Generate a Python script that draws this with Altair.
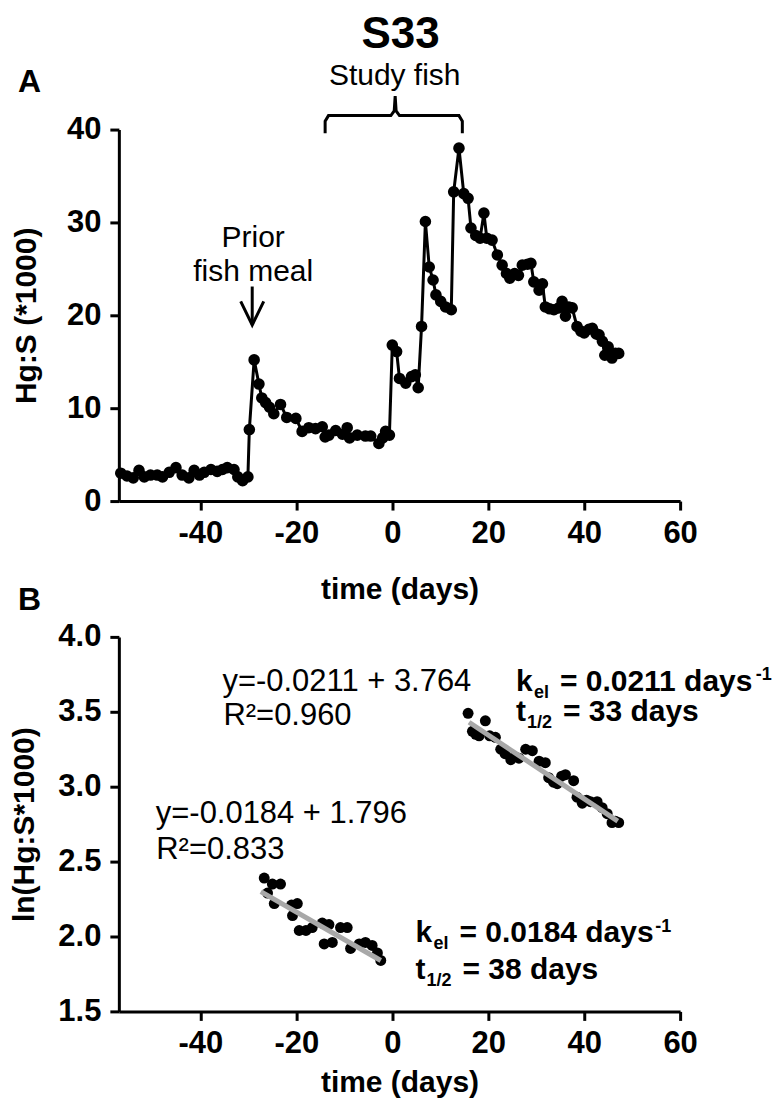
import altair as alt
import pandas as pd

FONT = "Liberation Sans"

# ---------------- Panel A data: Hg:S (*1000) vs time ----------------
days_a = [-56.6, -55.3, -54.0, -52.8, -51.7, -50.4, -49.0, -47.9, -46.5, -45.1,
          -43.8, -42.4, -41.3, -40.2, -39.2, -37.8, -36.5, -35.4, -34.4, -33.0,
          -32.2, -31.2, -30.1, -29.8, -28.8, -27.8, -27.2, -26.4, -25.6, -24.7,
          -23.3, -22.0, -20.1, -18.8, -17.4, -16.0, -14.6, -14.0, -13.2, -11.8,
          -10.4, -9.4, -8.9, -7.3, -5.6, -4.5, -2.8, -2.0, -1.4, -0.6,
          0.0, 0.9, 1.5, 2.8, 4.0, 4.8, 5.4, 6.1, 6.9, 7.7,
          8.5, 9.1, 10.1, 11.1, 12.3, 12.8, 13.9, 14.9, 15.8, 16.4,
          17.4, 18.3, 19.1, 19.7, 20.8, 21.9, 22.9, 23.8, 24.5, 25.5,
          26.3, 27.1, 28.2, 28.9, 29.5, 30.6, 31.3, 31.9, 32.8, 33.7,
          34.7, 35.4, 36.1, 36.8, 37.5, 38.5, 39.3, 40.0, 41.0, 41.7,
          42.5, 43.1, 43.8, 44.3, 45.0, 45.8, 46.5, 47.2]
hgs_a = [3.0, 2.7, 2.5, 3.3, 2.6, 2.8, 2.8, 2.6, 3.1, 3.6,
         2.8, 2.5, 3.3, 2.8, 3.1, 3.4, 3.2, 3.4, 3.6, 3.4,
         2.6, 2.2, 2.6, 7.7, 15.2, 12.6, 11.1, 10.6, 10.1, 9.4,
         10.4, 9.0, 8.9, 7.5, 7.9, 7.8, 8.0, 6.9, 7.1, 7.6,
         7.2, 7.9, 6.8, 7.1, 7.0, 7.0, 6.2, 6.8, 7.5, 7.1,
         16.8, 16.1, 13.2, 12.7, 13.4, 13.6, 12.2, 18.8, 30.1, 25.2,
         23.8, 22.2, 21.5, 20.9, 20.6, 33.3, 38.0, 33.1, 32.6, 29.4,
         28.6, 28.3, 31.0, 28.3, 28.1, 26.5, 25.4, 24.5, 24.0, 24.5,
         24.3, 25.4, 25.5, 25.6, 23.6, 22.7, 23.4, 20.9, 20.7, 20.6,
         20.8, 21.5, 19.9, 20.9, 20.8, 18.8, 18.3, 18.1, 18.5, 18.6,
         18.0, 17.9, 17.2, 15.7, 16.6, 15.4, 15.9, 15.9]

# ---------------- Panel B data: ln(Hg:S*1000) ----------------
days_b_pre = [-26.7, -26.0, -25.0, -24.6, -23.3, -21.0, -20.8, -19.8, -19.4, -18.0,
              -16.7, -14.6, -14.2, -13.2, -12.5, -10.8, -9.4, -8.7, -6.9, -5.6,
              -4.2, -3.1, -2.4]
ln_b_pre = [2.39, 2.29, 2.35, 2.22, 2.35, 2.21, 2.14, 2.22, 2.04, 2.04,
            2.06, 2.09, 1.95, 2.08, 1.96, 2.06, 2.06, 1.92, 1.95, 1.96,
            1.94, 1.89, 1.84]
days_b_post = [15.8, 16.7, 17.4, 18.1, 19.4, 20.3, 21.5, 22.6, 23.5, 24.7,
               25.5, 26.4, 27.8, 29.2, 30.6, 31.9, 32.6, 33.6, 34.4, 35.3,
               36.1, 37.8, 38.5, 39.6, 40.5, 41.3, 42.7, 43.75, 44.8, 45.8,
               46.5, 47.2]
ln_b_post = [3.49, 3.37, 3.35, 3.34, 3.44, 3.34, 3.33, 3.25, 3.22, 3.18,
             3.20, 3.19, 3.25, 3.24, 3.17, 3.16, 3.06, 3.03, 3.02, 3.07,
             3.08, 3.04, 2.93, 2.89, 2.91, 2.90, 2.90, 2.86, 2.82, 2.76,
             2.77, 2.76]

# regression line end points (from the fitted equations)
fit_pre_t = [-27.4, -2.4]
fit_pre_v = [2.30, 1.84]
fit_post_t = [16.0, 47.0]
fit_post_v = [3.43, 2.77]

# annotation geometry (data units)
bracket_t = [-14.0, -14.0, -13.3, -0.3, 0.4, 0.6, 0.8, 1.5, 13.9, 14.6, 14.6]
bracket_v = [39.6, 40.9, 41.5, 41.5, 42.0, 43.6, 42.0, 41.5, 41.5, 40.9, 39.6]
arrow_t = [-29.2, -29.2, -31.6, -29.2, -26.8]
arrow_v = [23.1, 19.0, 21.5, 18.96, 21.5]
arrow_seg = ["shaft", "shaft", "head", "head", "head"]

# ---------------- scales / axes ----------------
xscale = alt.Scale(domain=[-57, 60], nice=False, zero=False)


def base_axis(values, title, title_pad, label_pad, fmt=None):
    kw = dict(values=values, title=title, grid=False,
              domainColor="black", domainWidth=3, tickColor="black", tickWidth=3,
              tickSize=9, labelFont=FONT, labelFontSize=31, labelFontWeight="bold",
              labelColor="black", labelPadding=label_pad, titleFont=FONT, titleFontSize=30,
              titleFontWeight="bold", titleColor="black", titlePadding=title_pad,
              labelFlush=False, labelOverlap=False)
    if fmt:
        kw["format"] = fmt
    else:
        kw["labelExpr"] = "'' + datum.value"
    return alt.Axis(**kw)


XA = alt.X("t:Q", scale=xscale, axis=base_axis([-40, -20, 0, 20, 40, 60], "time (days)", 27, 8))
YA = alt.Y("v:Q", scale=alt.Scale(domain=[0, 40], nice=False),
           axis=base_axis([0, 10, 20, 30, 40], "Hg:S (*1000)", 25, 9))
XB = alt.X("t:Q", scale=xscale, axis=base_axis([-40, -20, 0, 20, 40, 60], "time (days)", 9, 8))
YB = alt.Y("v:Q", scale=alt.Scale(domain=[1.5, 4.0], nice=False),
           axis=base_axis([1.5, 2.0, 2.5, 3.0, 3.5, 4.0], "ln(Hg:S*1000)", 18, 9, ".1f"))


def txt(X, Y, rows, size, weight="normal", dx=0, dy=0, align="left"):
    df = pd.DataFrame(rows, columns=["t", "v", "label"])
    return alt.Chart(df).mark_text(font=FONT, fontSize=size, fontWeight=weight, align=align,
                                   baseline="alphabetic", dx=dx, dy=dy, color="black").encode(
        x=X, y=Y, text="label:N")


def label_px(ch, px, py, size, align="left", baseline="alphabetic"):
    return alt.Chart(pd.DataFrame({"label": [ch]})).mark_text(
        font=FONT, fontSize=size, fontWeight="bold", align=align, baseline=baseline,
        color="black").encode(x=alt.value(px), y=alt.value(py), text="label:N")


# ---------------- Panel A ----------------
df_a = pd.DataFrame({"t": days_a, "v": hgs_a})
line_a = alt.Chart(df_a).mark_line(color="black", strokeWidth=3).encode(x=XA, y=YA)
pts_a = alt.Chart(df_a).mark_circle(size=135, color="black", opacity=1).encode(x=XA, y=YA)

df_br = pd.DataFrame({"t": bracket_t, "v": bracket_v, "o": list(range(len(bracket_t)))})
bracket = alt.Chart(df_br).mark_line(color="black", strokeWidth=3).encode(
    x=XA, y=YA, order="o:Q")
df_ar = pd.DataFrame({"t": arrow_t, "v": arrow_v, "seg": arrow_seg,
                      "o": list(range(len(arrow_t)))})
arrow = alt.Chart(df_ar).mark_line(color="black", strokeWidth=3).encode(
    x=XA, y=YA, detail="seg:N", order="o:Q")

ann_a = txt(XA, YA, [(-29.0, 27.4, "Prior"), (-29.0, 23.7, "fish meal"),
                     (0.5, 44.8, "Study fish")], 30, align="center")

panel_a = alt.layer(line_a, pts_a, bracket, arrow, ann_a,
                    label_px("A", -101, -38, 32),
                    label_px("S33", 282, -82, 44, align="center")).properties(
    width=562, height=372)

# ---------------- Panel B ----------------
df_b1 = pd.DataFrame({"t": days_b_pre, "v": ln_b_pre})
df_b2 = pd.DataFrame({"t": days_b_post, "v": ln_b_post})
pts_b = alt.Chart(pd.concat([df_b1, df_b2])).mark_circle(size=120, color="black", opacity=1).encode(
    x=XB, y=YB)
df_fit = pd.DataFrame({"t": fit_pre_t + fit_post_t, "v": fit_pre_v + fit_post_v,
                       "seg": ["pre", "pre", "post", "post"]})
fit = alt.Chart(df_fit).mark_line(color="#a8a8a8", strokeWidth=5).encode(
    x=XB, y=YB, detail="seg:N")

eqs = txt(XB, YB, [(-35.4, 3.638, "y=-0.0211 + 3.764"), (-35.2, 3.411, "R²=0.960"),
                   (-49.3, 2.76, "y=-0.0184 + 1.796"), (-49.2, 2.515, "R²=0.833")], 31)

KX1, KX2 = 25.8, 4.86
k_main = txt(XB, YB, [(KX1, 3.638, "k"), (KX2, 1.96, "k")], 30, "bold")
k_sub = txt(XB, YB, [(KX1, 3.638, "el"), (KX2, 1.96, "el")], 18, "bold", dx=18, dy=7)
k_rest = txt(XB, YB, [(KX1, 3.638, "= 0.0211 days"), (KX2, 1.96, "= 0.0184 days")], 30, "bold", dx=44)
k_sup = txt(XB, YB, [(KX1, 3.638, "-1"), (KX2, 1.96, "-1")], 18, "bold", dx=240, dy=-11)
t_main = txt(XB, YB, [(KX1, 3.437, "t"), (KX2, 1.715, "t")], 30, "bold")
t_sub = txt(XB, YB, [(KX1, 3.437, "1/2"), (KX2, 1.715, "1/2")], 18, "bold", dx=11, dy=7)
t_rest = txt(XB, YB, [(KX1, 3.437, "= 33 days"), (KX2, 1.715, "= 38 days")], 30, "bold", dx=47)

panel_b = alt.layer(pts_b, fit, eqs, k_main, k_sub, k_rest, k_sup, t_main, t_sub, t_rest,
                    label_px("B", -101, -27, 32)).properties(width=562, height=375)

chart = alt.vconcat(panel_a, panel_b, spacing=136, bounds="flush").properties(
    padding={"left": 1, "top": 4, "right": 0, "bottom": 0},
    background="white",
).configure_view(stroke=None)

chart.save("out.html", embed_options={"renderer": "svg", "actions": False})
